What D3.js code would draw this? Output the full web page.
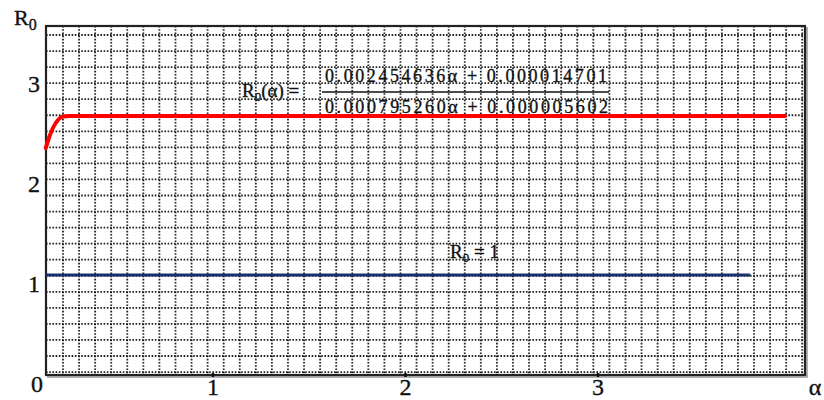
<!DOCTYPE html>
<html>
<head>
<meta charset="utf-8">
<script src="https://cdn.jsdelivr.net/npm/d3@7"></script>
<style>
    html, body { margin: 0; padding: 0; background: #fff; }
    svg { display: block; }
    text { font-family: "Liberation Serif", "Times New Roman", serif; fill: #111; stroke: #111; stroke-width: 0.35; }
</style>
</head>
<body>
<div id="chart"></div>
<script>
// values
const alphaTicks = [1, 2, 3];
const r0Ticks = [0, 1, 2, 3];
const redAlpha = [0.132, 0.148, 0.169, 0.195, 0.221, 0.257, 3.97];
const redR0 = [2.27, 2.37, 2.47, 2.55, 2.585, 2.59, 2.59];
const blueAlpha = [0.132, 3.79];
const blueR0 = [1, 1];
const numeratorText = "0.002454636α + 0.000014701";
const denominatorText = "0.000795260α + 0.000005602";

(function () {
    const width = 824;
    const height = 400;
    const left = 46, right = 805, top = 26, bottom = 375;

    const x = d3.scaleLinear().domain([0.133, 4.075]).range([left, right]);
    const y = d3.scaleLinear().domain([0, 3.49]).range([bottom, top]);

    const svg = d3.select("#chart")
        .append("svg")
        .attr("width", width)
        .attr("height", height);

    // dotted grid (decoration, pixel spaced like the original)
    const vGrid = d3.range(0, 47).map(k => 63 + k * 16.07);
    const hGrid = d3.range(0, 22).map(k => 35 + k * 16.05);

    const grid = svg.append("g")
        .attr("stroke", "#222")
        .attr("stroke-width", 1.8)
        .attr("stroke-dasharray", "1.6,1.6");

    grid.selectAll("line.v")
        .data(vGrid)
        .join("line")
        .attr("class", "v")
        .attr("x1", d => d).attr("x2", d => d)
        .attr("y1", top).attr("y2", bottom);

    grid.selectAll("line.h")
        .data(hGrid)
        .join("line")
        .attr("class", "h")
        .attr("x1", left).attr("x2", right)
        .attr("y1", d => d).attr("y2", d => d);

    // frame with a light shadow on right/bottom
    svg.append("path")
        .attr("d", `M${right + 2},${top + 1}V${bottom + 2}H${left + 1}`)
        .attr("fill", "none")
        .attr("stroke", "#b0b0b0")
        .attr("stroke-width", 2);
    svg.append("rect")
        .attr("x", left).attr("y", top)
        .attr("width", right - left).attr("height", bottom - top)
        .attr("fill", "none")
        .attr("stroke", "#222")
        .attr("stroke-width", 2.2);

    // x tick marks
    svg.append("g")
        .selectAll("line")
        .data(alphaTicks)
        .join("line")
        .attr("x1", d => x(d)).attr("x2", d => x(d))
        .attr("y1", bottom - 2).attr("y2", bottom + 2)
        .attr("stroke", "#111")
        .attr("stroke-width", 2.5);

    // curves
    const line = d3.line()
        .x(d => x(d[0]))
        .y(d => y(d[1]))
        .curve(d3.curveMonotoneX);

    svg.append("path")
        .datum(blueAlpha.map((a, i) => [a, blueR0[i]]))
        .attr("d", line)
        .attr("fill", "none")
        .attr("stroke", "#1a2f6e")
        .attr("stroke-width", 3);

    svg.append("path")
        .datum(redAlpha.map((a, i) => [a, redR0[i]]))
        .attr("d", line)
        .attr("fill", "none")
        .attr("stroke", "#ff0000")
        .attr("stroke-width", 4)
        .attr("stroke-linecap", "round");

    // tick labels
    svg.append("g")
        .selectAll("text")
        .data(alphaTicks)
        .join("text")
        .attr("x", d => x(d))
        .attr("y", 395)
        .attr("text-anchor", "middle")
        .attr("font-size", 24)
        .text(d => d);

    svg.append("g")
        .selectAll("text")
        .data(r0Ticks)
        .join("text")
        .attr("x", d => d === 0 ? 37 : 34)
        .attr("y", d => y(d) + 17)
        .attr("text-anchor", "middle")
        .attr("font-size", 24)
        .text(d => d);

    // axis names
    const yName = svg.append("text")
        .attr("x", 14)
        .attr("y", 25)
        .attr("font-size", 22);
    yName.append("tspan").text("R");
    yName.append("tspan").attr("font-size", 16).attr("dy", 5).text("0");

    svg.append("text")
        .attr("x", 815)
        .attr("y", 395)
        .attr("text-anchor", "middle")
        .attr("font-size", 24)
        .text("α");

    // formula for the red curve
    const lhs = svg.append("text")
        .attr("x", 242)
        .attr("y", 97)
        .attr("font-size", 19);
    lhs.append("tspan").text("R");
    lhs.append("tspan").attr("font-size", 13).attr("dy", 4).text("0");
    lhs.append("tspan").attr("dy", -4).text("(α) =");

    svg.append("text")
        .attr("x", 325)
        .attr("y", 82)
        .attr("font-size", 18)
        .attr("textLength", 282)
        .attr("lengthAdjust", "spacing")
        .text(numeratorText);

    svg.append("line")
        .attr("x1", 322).attr("x2", 609)
        .attr("y1", 92).attr("y2", 92)
        .attr("stroke", "#111")
        .attr("stroke-width", 1.6);

    svg.append("text")
        .attr("x", 325)
        .attr("y", 113)
        .attr("font-size", 18)
        .attr("textLength", 283)
        .attr("lengthAdjust", "spacing")
        .text(denominatorText);

    // label for the blue line
    const blueLabel = svg.append("text")
        .attr("x", 450)
        .attr("y", 258)
        .attr("font-size", 19);
    blueLabel.append("tspan").text("R");
    blueLabel.append("tspan").attr("font-size", 13).attr("dy", 4).text("0");
    blueLabel.append("tspan").attr("dy", -4).text(" = 1");
})();
</script>
</body>
</html>
